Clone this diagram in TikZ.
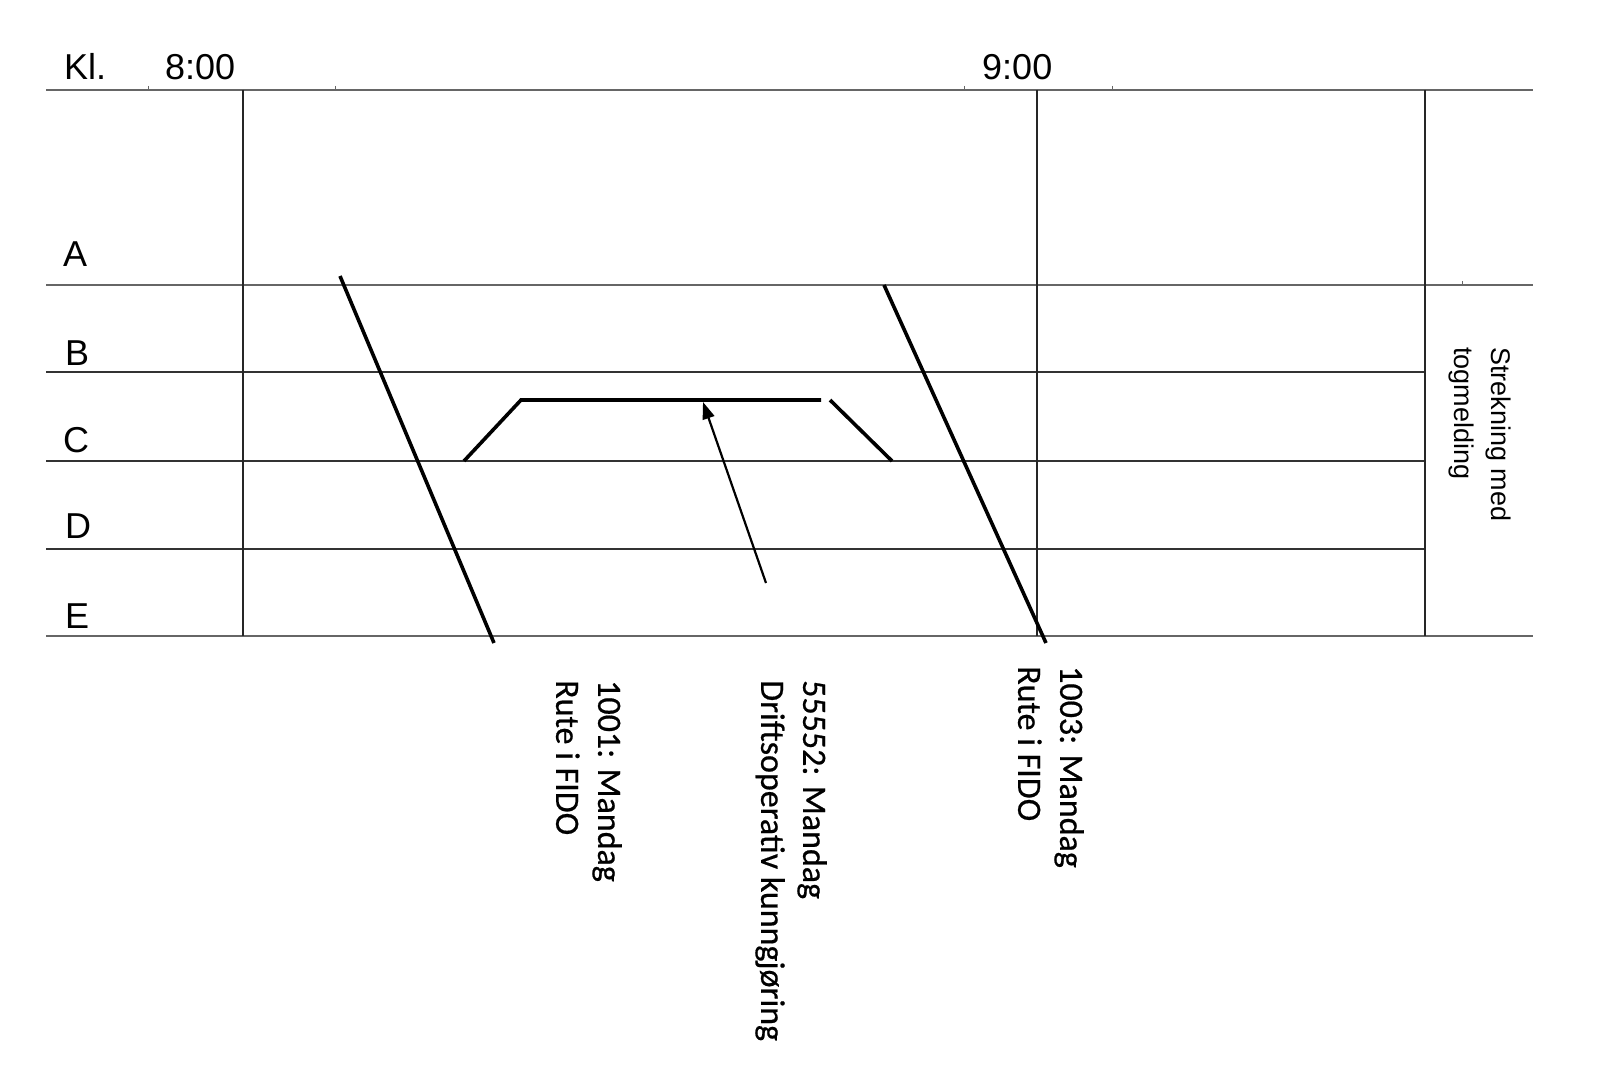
\documentclass[tikz,border=0pt]{standalone}
\usepackage{fontspec}
\setmainfont{Liberation Sans}
\newfontfamily\calfont[FakeBold=0.6]{Carlito}
\usetikzlibrary{arrows.meta}
\begin{document}
\begin{tikzpicture}[x=1pt,y=-1pt,
  gridline/.style={line width=1.8pt, draw=black!80},
  gridlight/.style={line width=2.5pt, draw=black!60},
  vline/.style={line width=1.6pt, draw=black!85},
  tickmark/.style={line width=1pt, draw=black!60},
  train/.style={line width=3.6pt, draw=black},
  pointer/.style={line width=2.2pt, draw=black, -{Triangle[length=17pt,width=12pt]}},
  lbl/.style={font=\fontsize{36}{40}\selectfont, inner sep=0pt, anchor=base west},
  vlab/.style={font=\calfont\fontsize{34}{42}\selectfont, rotate=-90, anchor=north west, align=left, inner sep=0pt},
  slab/.style={font=\fontsize{27}{37}\selectfont, rotate=-90, anchor=north west, align=left, inner sep=0pt},
]
\useasboundingbox (0,0) rectangle (1600,1078);
\fill[white] (0,0) rectangle (1600,1078);

% horizontal lines
\draw[gridlight] (46,90) -- (1533,90);
\draw[gridlight] (46,285) -- (1533,285);
\draw[gridline] (46,372) -- (1425,372);
\draw[gridline] (46,461) -- (1425,461);
\draw[gridline] (46,549) -- (1425,549);
\draw[gridlight] (46,636) -- (1533,636);

% vertical lines
\draw[vline] (243,90) -- (243,636);
\draw[vline] (1037,90) -- (1037,636);
\draw[vline] (1425,90) -- (1425,636);

% small ticks
\foreach \tx in {148,335,964,1112} \draw[tickmark] (\tx,86) -- (\tx,90);
\draw[tickmark] (1462,281) -- (1462,285);

% header labels
\node[lbl] (kl) at (64,80) {Kl.};
\node[lbl] (t8) at (165,80) {8:00};
\node[lbl] (t9) at (982,80) {9:00};

% station labels
\node[lbl] (sA) at (63,266) {A};
\node[lbl] (sB) at (65,365) {B};
\node[lbl] (sC) at (63,452) {C};
\node[lbl] (sD) at (65,538) {D};
\node[lbl] (sE) at (65,628) {E};

% trains
\coordinate (t1s) at (340,276);
\coordinate (t1e) at (494,643);
\draw[train] (t1s) -- (t1e);
\coordinate (t3s) at (884,285);
\coordinate (t3e) at (1046,643);
\draw[train] (t3s) -- (t3e);

\coordinate (k1) at (464,461);
\coordinate (k2) at (521,400);
\coordinate (k3) at (821,400);
\coordinate (k4) at (830,400);
\coordinate (k5) at (892,461);
\draw[train, line join=miter] (k1) -- (k2) -- (k3);
\draw[train] (k4) -- (k5);

% arrow
\coordinate (arS) at (766,583);
\coordinate (arE) at (703,402);
\draw[pointer] (arS) -- (arE);

% rotated labels
\node[vlab] (l1001) at (622,680) {1001: Mandag\\Rute i FIDO};
\node[vlab] (l5555) at (827,680) {55552: Mandag\\Driftsoperativ kunngjøring};
\node[vlab] (l1003) at (1084,666) {1003: Mandag\\Rute i FIDO};
\node[slab] (strek) at (1511,347) {Strekning med\\togmelding};
\end{tikzpicture}
\end{document}
